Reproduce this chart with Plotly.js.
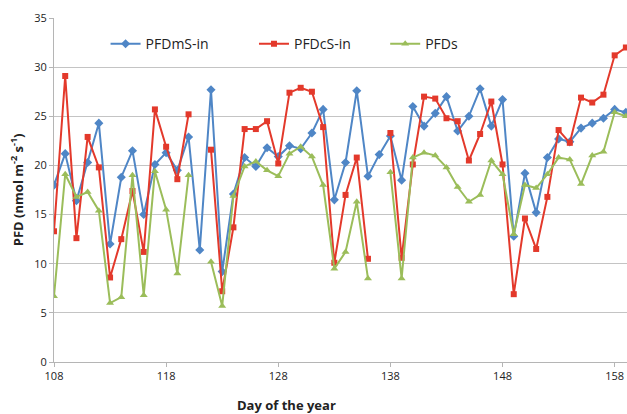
<!DOCTYPE html>
<html>
<head>
<meta charset="utf-8">
<script src="https://cdn.plot.ly/plotly-3.0.1.min.js"></script>
<style>html,body{margin:0;padding:0;background:#fff;}#chart{width:627px;height:414px;}</style>
</head>
<body>
<div id="chart"></div>
<script>
const days = [108,109,110,111,112,113,114,115,116,117,118,119,120,121,122,123,124,125,126,127,128,129,130,131,132,133,134,135,136,137,138,139,140,141,142,143,144,145,146,147,148,149,150,151,152,153,154,155,156,157,158,159];
const pfdmsIn = [18.0,21.2,16.4,20.3,24.3,12.0,18.8,21.5,15.0,20.1,21.3,19.5,22.9,11.4,27.7,9.2,17.1,20.8,19.9,21.8,20.9,22.0,21.7,23.3,25.7,16.5,20.3,27.6,18.9,21.1,23.0,18.5,26.0,24.0,25.3,27.0,23.5,25.0,27.8,24.0,26.7,12.8,19.2,15.2,20.8,22.7,22.4,23.8,24.3,24.8,25.7,25.4];
const pfdcsIn = [13.3,29.1,12.6,22.9,19.8,8.6,12.5,17.4,11.2,25.7,21.9,18.6,25.2,null,21.6,7.2,13.7,23.7,23.7,24.5,20.2,27.4,27.9,27.5,23.9,10.1,17.0,20.8,10.5,null,23.3,10.6,20.1,27.0,26.8,24.8,24.5,20.5,23.2,26.5,20.1,6.9,14.6,11.5,16.8,23.6,22.3,26.9,26.4,27.2,31.2,32.0];
const pfds = [6.7,19.1,16.8,17.3,15.4,6.0,6.6,19.0,6.8,19.4,15.5,9.0,19.0,null,10.2,5.7,16.9,19.9,20.4,19.5,18.9,21.2,21.9,20.9,18.0,9.5,11.2,16.3,8.5,null,19.3,8.5,20.8,21.3,21.0,19.8,17.8,16.3,17.0,20.5,19.1,13.0,18.0,17.7,19.1,20.8,20.6,18.1,21.0,21.4,25.4,25.0];
const xTicks = [108,118,128,138,148,158];
const yTicks = [0,5,10,15,20,25,30,35];

const FONT = '"Open Sans", "Liberation Sans", Arial, sans-serif';

const traces = [
  {x: days, y: pfdmsIn, name: 'PFDmS-in', type: 'scatter', mode: 'lines+markers', connectgaps: false, legend: 'legend',
   line: {color: '#4f86c6', width: 2}, marker: {symbol: 'diamond', size: 7, color: '#4f86c6'}},
  {x: days, y: pfdcsIn, name: 'PFDcS-in', type: 'scatter', mode: 'lines+markers', connectgaps: false, legend: 'legend2',
   line: {color: '#e3392b', width: 2}, marker: {symbol: 'square', size: 6, color: '#e3392b'}},
  {x: days, y: pfds, name: 'PFDs', type: 'scatter', mode: 'lines+markers', connectgaps: false, legend: 'legend3',
   line: {color: '#9bbd5a', width: 2}, marker: {symbol: 'triangle-up', size: 7, color: '#9bbd5a'}}
];

function leg(x) {
  return {orientation: 'h', x: x, y: 0.924, xanchor: 'left', yanchor: 'middle',
    font: {family: FONT, size: 14, color: '#222'}, bgcolor: 'rgba(255,255,255,0)', itemwidth: 30};
}

const layout = {
  width: 627, height: 414,
  margin: {l: 54, r: 0, t: 18, b: 52},
  paper_bgcolor: '#ffffff', plot_bgcolor: '#ffffff',
  font: {family: FONT, size: 11, color: '#222'},
  showlegend: true,
  legend: leg(0.09),
  legend2: leg(0.349),
  legend3: leg(0.578),
  xaxis: {range: [108, 159.1], tickvals: xTicks, ticktext: xTicks.map(String),
    showgrid: false, zeroline: false, showline: true, linecolor: '#b5b5b5', linewidth: 1,
    ticks: 'outside', ticklen: 4, tickcolor: '#b5b5b5',
    tickfont: {family: FONT, size: 11, color: '#222'}},
  yaxis: {range: [0, 35], tickvals: yTicks, ticktext: yTicks.map(String),
    showgrid: true, gridcolor: '#c4c4c4', gridwidth: 1, zeroline: false,
    showline: true, linecolor: '#b5b5b5', linewidth: 1,
    ticks: 'outside', ticklen: 4, tickcolor: '#b5b5b5',
    tickfont: {family: FONT, size: 11, color: '#222'}},
  annotations: [
    {text: '<b>Day of the year</b>', xref: 'paper', yref: 'paper', x: 0.4066, y: -0.125,
     xanchor: 'center', yanchor: 'middle', showarrow: false, font: {family: FONT, size: 13, color: '#222'}},
    {text: '<b>PFD (nmol m<sup>-2</sup> s<sup>-1</sup>)</b>', xref: 'paper', yref: 'paper', x: -0.066, y: 0.5,
     xanchor: 'center', yanchor: 'middle', textangle: -90, showarrow: false, font: {family: FONT, size: 13, color: '#222'}}
  ]
};

Plotly.newPlot('chart', traces, layout, {displayModeBar: false, staticPlot: true});
</script>
</body>
</html>
